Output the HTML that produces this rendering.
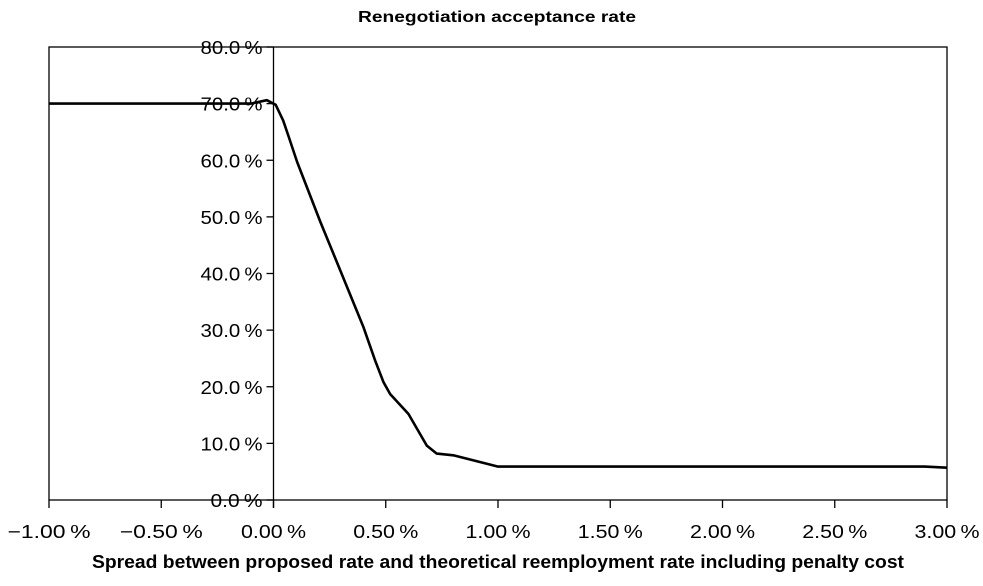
<!DOCTYPE html>
<html><head><meta charset="utf-8"><style>
body{margin:0;background:#fff;}
svg text{font-family:"Liberation Sans",Arial,sans-serif;fill:#000;}
</style></head><body>
<svg width="983" height="581">
<text x="497" y="22" text-anchor="middle" font-size="16" font-weight="bold" textLength="278" lengthAdjust="spacingAndGlyphs">Renegotiation acceptance rate</text>
<rect x="49" y="47" width="898" height="453" fill="none" stroke="#000" stroke-width="1.3"/>
<g id="axes"></g>
<path id="line" fill="none" stroke="#000" stroke-width="2.6" stroke-linejoin="round"/>
<text x="498" y="568" text-anchor="middle" font-size="18" font-weight="bold" textLength="812" lengthAdjust="spacingAndGlyphs">Spread between proposed rate and theoretical reemployment rate including penalty cost</text>
</svg>
<script>
const xs=[-1,-0.1,-0.03,0.01,0.043,0.068,0.105,0.209,0.298,0.401,0.453,0.49,0.52,0.601,0.683,0.727,0.801,0.95,1.0,2.9,3.0];
const ys=[70,70,70.6,69.8,67.0,64.1,59.7,49.1,40.5,30.5,24.6,20.8,18.7,15.2,9.6,8.2,7.9,6.4,5.9,5.9,5.7];
const xTicks=[-1,-0.5,0,0.5,1,1.5,2,2.5,3];
const yTicks=[0,10,20,30,40,50,60,70,80];
const X0=49,X1=947,Y0=500,Y1=47;
const sx=v=>X0+(v+1)/4*(X1-X0);
const sy=v=>Y0-v/80*(Y0-Y1);
const ns="http://www.w3.org/2000/svg";
const g=document.getElementById('axes');
function mk(t,a){const e=document.createElementNS(ns,t);for(const k in a)e.setAttribute(k,a[k]);g.appendChild(e);return e;}
const ax=mk('line',{x1:sx(0),x2:sx(0),y1:Y1,y2:Y0+8,stroke:'#000','stroke-width':1.3});


xTicks.forEach(v=>{
 const l=mk('line',{x1:sx(v),x2:sx(v),y1:Y0,y2:Y0+8,stroke:'#000','stroke-width':1.3});
 
 
 const t=mk('text',{x:sx(v),y:Y0+38,'text-anchor':'middle','font-size':18.5,textLength:(v<0?83:65),lengthAdjust:'spacingAndGlyphs'});
 t.textContent=(v<0?'\u2212':'')+Math.abs(v).toFixed(2)+'\u2009%';
 
 
});
yTicks.forEach(v=>{
 const l=mk('line',{x1:sx(0)-7,x2:sx(0),y1:sy(v),y2:sy(v),stroke:'#000','stroke-width':1.3});
 
 
 const t=mk('text',{x:sx(0)-11,y:sy(v)+7,'text-anchor':'end','font-size':18.5,textLength:(v<10?52:62),lengthAdjust:'spacingAndGlyphs'});
 t.textContent=v.toFixed(1)+'\u2009%';
 
 
});
document.getElementById('line').setAttribute('d',xs.map((x,i)=>(i?'L':'M')+sx(x).toFixed(1)+','+sy(ys[i]).toFixed(1)).join(''));
</script>
</body></html>
